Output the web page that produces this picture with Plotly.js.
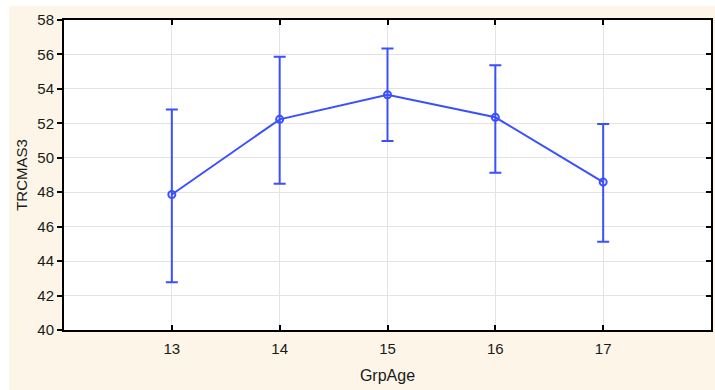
<!DOCTYPE html>
<html>
<head>
<meta charset="utf-8">
<script src="https://cdn.plot.ly/plotly-3.0.1.min.js"></script>
<style>
  html, body { margin: 0; padding: 0; background: #ffffff; width: 715px; height: 390px; overflow: hidden; }
  #chart { position: absolute; left: 9px; top: 6px; width: 706px; height: 384px; }
</style>
</head>
<body>
<div id="chart"></div>
<script>
const groups = [13, 14, 15, 16, 17];
const means = [47.87, 52.23, 53.66, 52.35, 48.59];
const upper = [52.81, 55.87, 56.35, 55.37, 51.96];
const lower = [42.77, 48.49, 50.97, 49.13, 45.13];
const yTicks = [40, 42, 44, 46, 48, 50, 52, 54, 56, 58];

const errPlus = means.map((m, i) => upper[i] - m);
const errMinus = means.map((m, i) => m - lower[i]);

const blue = '#3a50ff';

const trace = {
  x: groups,
  y: means,
  type: 'scatter',
  mode: 'lines+markers',
  line: { color: blue, width: 2 },
  marker: { symbol: 'circle-open', size: 7, color: blue, line: { width: 2, color: blue } },
  error_y: {
    type: 'data', symmetric: false,
    array: errPlus, arrayminus: errMinus,
    color: blue, thickness: 2, width: 6
  },
  showlegend: false,
  hoverinfo: 'x+y'
};

const ghost = {
  x: [groups[0]], y: [means[0]], yaxis: 'y2', type: 'scatter', mode: 'markers',
  marker: { opacity: 0 }, showlegend: false, hoverinfo: 'skip'
};

const font = { family: 'Liberation Sans, Arial, sans-serif', size: 15, color: '#1a1a1a' };

const layout = {
  width: 706, height: 384,
  paper_bgcolor: '#fdf6e8',
  plot_bgcolor: '#ffffff',
  margin: { l: 55, r: 4, t: 14, b: 60 },
  font: font,
  xaxis: {
    range: [12, 18],
    tickvals: groups,
    ticktext: groups.map(String),
    ticks: 'inside', ticklen: 5, tickwidth: 2, tickcolor: '#000',
    showline: true, linecolor: '#000', linewidth: 2, mirror: 'ticks',
    showgrid: true, gridcolor: '#e3e3e3', gridwidth: 1,
    zeroline: false,
    tickfont: font,
    ticklabelstandoff: 4,
    title: { text: 'GrpAge', font: { family: font.family, size: 16, color: font.color }, standoff: 14 }
  },
  yaxis: {
    range: [40, 58],
    tickvals: yTicks,
    ticks: 'outside', ticklen: 5, tickwidth: 2, tickcolor: '#000',
    showline: true, linecolor: '#000', linewidth: 2, mirror: true,
    showgrid: true, gridcolor: '#e3e3e3', gridwidth: 1,
    zeroline: false,
    tickfont: font,
    title: { text: 'TRCMAS3', font: font, standoff: 6 }
  },
  yaxis2: {
    range: [40, 58], overlaying: 'y', side: 'right',
    tickvals: yTicks, ticks: 'inside', ticklen: 5, tickwidth: 2, tickcolor: '#000',
    showticklabels: false, showgrid: false, zeroline: false, showline: false
  }
};

Plotly.newPlot('chart', [trace, ghost], layout, { displayModeBar: false, staticPlot: true });
</script>
</body>
</html>
